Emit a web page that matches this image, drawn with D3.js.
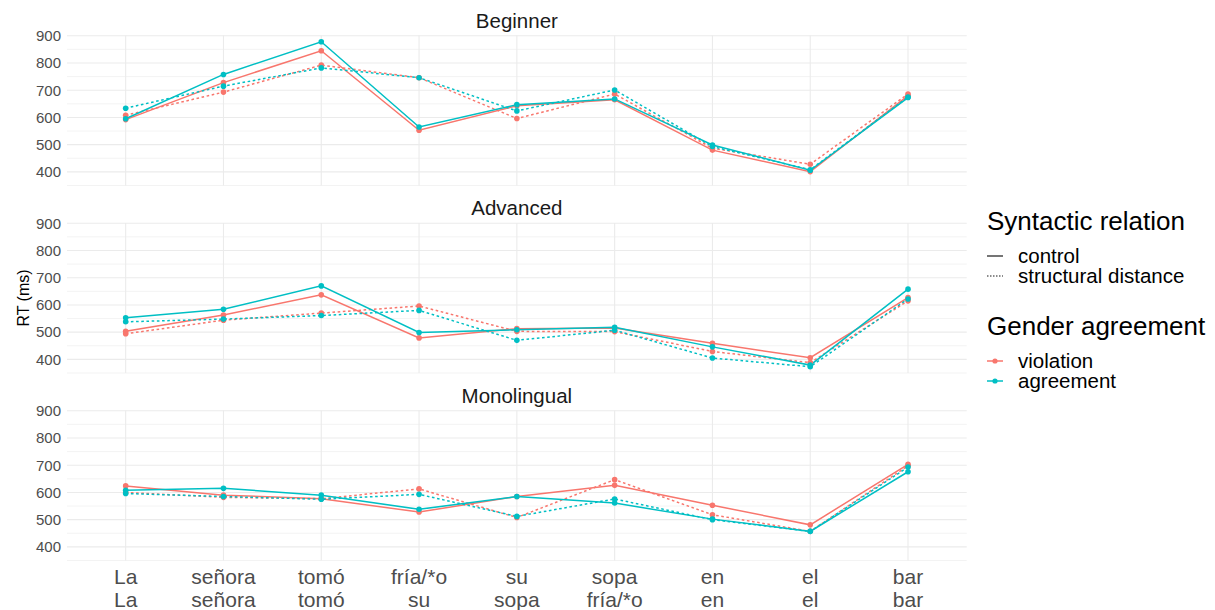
<!DOCTYPE html>
<html>
<head>
<meta charset="utf-8">
<script src="https://cdn.jsdelivr.net/npm/d3@7"></script>
<style>
  body { margin: 0; background: #fff; }
  svg { display: block; font-family: "Liberation Sans", Arial, sans-serif; }
</style>
</head>
<body>
<svg id="chart" width="1215" height="610"></svg>
<script>
"use strict";

// x labels: first line = control sentence, second line = structural distance sentence
var wordsControl = ["La", "señora", "tomó", "fría/*o", "su", "sopa", "en", "el", "bar"];
var wordsStructural = ["La", "señora", "tomó", "su", "sopa", "fría/*o", "en", "el", "bar"];
var groups = ["Beginner", "Advanced", "Monolingual"];
var yTicks = [400, 500, 600, 700, 800, 900];
var yMinorTicks = [350, 450, 550, 650, 750, 850];

var beginnerViolationControl     = [592, 728, 845, 553, 643, 665, 480, 401, 680];
var beginnerViolationStructural  = [608, 693, 792, 746, 596, 686, 487, 428, 686];
var beginnerAgreementControl     = [595, 758, 878, 565, 647, 668, 499, 406, 673];
var beginnerAgreementStructural  = [634, 715, 782, 746, 624, 701, 493, 408, 675];

var advancedViolationControl     = [503, 563, 637, 479, 513, 515, 459, 406, 627];
var advancedViolationStructural  = [494, 544, 570, 596, 503, 502, 429, 388, 615];
var advancedAgreementControl     = [553, 584, 670, 499, 509, 518, 446, 379, 658];
var advancedAgreementStructural  = [538, 548, 561, 580, 470, 507, 405, 373, 622];

var monoViolationControl         = [624, 590, 577, 528, 585, 626, 553, 481, 703];
var monoViolationStructural      = [600, 582, 577, 613, 508, 647, 518, 457, 698];
var monoAgreementControl         = [608, 615, 590, 538, 585, 561, 502, 457, 676];
var monoAgreementStructural      = [596, 585, 575, 593, 512, 576, 500, 457, 693];

var genderLevels = ["violation", "agreement"];
var relationLevels = ["control", "structural distance"];
var panelSeries = [
  [beginnerViolationControl, beginnerViolationStructural, beginnerAgreementControl, beginnerAgreementStructural],
  [advancedViolationControl, advancedViolationStructural, advancedAgreementControl, advancedAgreementStructural],
  [monoViolationControl, monoViolationStructural, monoAgreementControl, monoAgreementStructural]
];

var COLORS = { violation: "#F8766D", agreement: "#00BFC4" };
var DOTTED = "2.6,2.6";
var LINE_WIDTH = 1.5;

var PANEL_LEFT = 67;
var PANEL_RIGHT = 966.7;
var PANEL_HEIGHT = 150;
var PANEL_TOPS = [35.5, 223, 410.5];

var svg = d3.select("#chart");

var x = d3.scalePoint()
  .domain(d3.range(wordsControl.length))
  .range([PANEL_LEFT, PANEL_RIGHT])
  .padding(0.6);

var line = d3.line()
  .x(function (d, i) { return x(i); });

groups.forEach(function (groupName, gi) {
  var top = PANEL_TOPS[gi];
  var y = d3.scaleLinear().domain([350, 901]).range([top + PANEL_HEIGHT, top]);
  var panel = svg.append("g").attr("class", "panel");

  // minor grid
  panel.selectAll("line.minor")
    .data(yMinorTicks)
    .enter()
    .append("line")
    .attr("class", "minor")
    .attr("x1", PANEL_LEFT).attr("x2", PANEL_RIGHT)
    .attr("y1", function (d) { return y(d); })
    .attr("y2", function (d) { return y(d); })
    .attr("stroke", "#EBEBEB")
    .attr("stroke-width", 0.6);

  // major grid
  panel.selectAll("line.major-y")
    .data(yTicks)
    .enter()
    .append("line")
    .attr("class", "major-y")
    .attr("x1", PANEL_LEFT).attr("x2", PANEL_RIGHT)
    .attr("y1", function (d) { return y(d); })
    .attr("y2", function (d) { return y(d); })
    .attr("stroke", "#EBEBEB")
    .attr("stroke-width", 1.1);

  panel.selectAll("line.major-x")
    .data(x.domain())
    .enter()
    .append("line")
    .attr("class", "major-x")
    .attr("x1", function (d) { return x(d); })
    .attr("x2", function (d) { return x(d); })
    .attr("y1", top).attr("y2", top + PANEL_HEIGHT)
    .attr("stroke", "#EBEBEB")
    .attr("stroke-width", 1.1);

  // y axis labels
  var yAxis = d3.axisLeft(y).tickValues(yTicks).tickSize(0).tickPadding(6);
  panel.append("g")
    .attr("transform", "translate(" + PANEL_LEFT + ",0)")
    .call(yAxis)
    .call(function (g) { g.select(".domain").remove(); })
    .selectAll("text")
    .attr("font-size", 15)
    .attr("font-family", "Liberation Sans, Arial, sans-serif")
    .attr("fill", "#4D4D4D");

  // strip title
  panel.append("text")
    .attr("x", (PANEL_LEFT + PANEL_RIGHT) / 2)
    .attr("y", top - 8)
    .attr("text-anchor", "middle")
    .attr("font-size", 20.5)
    .attr("fill", "#1A1A1A")
    .text(groupName);

  line.y(function (d) { return y(d); });

  var series = panelSeries[gi].map(function (values, si) {
    return {
      values: values,
      gender: genderLevels[Math.floor(si / 2)],
      relation: relationLevels[si % 2]
    };
  });

  series.forEach(function (s) {
    panel.append("path")
      .datum(s.values)
      .attr("d", line)
      .attr("fill", "none")
      .attr("stroke", COLORS[s.gender])
      .attr("stroke-width", LINE_WIDTH)
      .attr("stroke-dasharray", s.relation === "control" ? null : DOTTED);
  });

  series.forEach(function (s) {
    panel.selectAll(null)
      .data(s.values)
      .enter()
      .append("circle")
      .attr("cx", function (d, i) { return x(i); })
      .attr("cy", function (d) { return y(d); })
      .attr("r", 2.8)
      .attr("fill", COLORS[s.gender]);
  });
});

// x axis labels, two lines
var xLabels = svg.append("g").attr("class", "x-labels");
x.domain().forEach(function (i) {
  var t = xLabels.append("text")
    .attr("text-anchor", "middle")
    .attr("font-size", 21)
    .attr("fill", "#4D4D4D");
  t.append("tspan").attr("x", x(i)).attr("y", 584).text(wordsControl[i]);
  t.append("tspan").attr("x", x(i)).attr("y", 607).text(wordsStructural[i]);
});

// y title
svg.append("text")
  .attr("transform", "translate(29," + ((PANEL_TOPS[0] + PANEL_TOPS[2] + PANEL_HEIGHT) / 2) + ") rotate(-90)")
  .attr("text-anchor", "middle")
  .attr("font-size", 16)
  .attr("fill", "#000")
  .text("RT (ms)");

// legends
var legend = svg.append("g").attr("class", "legend");
var KEY_X1 = 987, KEY_X2 = 1003, LABEL_X = 1018;

legend.append("text")
  .attr("x", KEY_X1).attr("y", 230)
  .attr("font-size", 26)
  .attr("fill", "#000")
  .text("Syntactic relation");

relationLevels.forEach(function (rel, i) {
  var cy = 256 + i * 20;
  legend.append("line")
    .attr("x1", KEY_X1).attr("x2", KEY_X2)
    .attr("y1", cy).attr("y2", cy)
    .attr("stroke", "#1A1A1A")
    .attr("stroke-width", 1.2)
    .attr("stroke-dasharray", rel === "control" ? null : "1.5,1.5");
  legend.append("text")
    .attr("x", LABEL_X).attr("y", cy + 7)
    .attr("font-size", 20.5)
    .attr("fill", "#000")
    .text(rel);
});

legend.append("text")
  .attr("x", KEY_X1).attr("y", 335)
  .attr("font-size", 26)
  .attr("fill", "#000")
  .text("Gender agreement");

genderLevels.forEach(function (g, i) {
  var cy = 361 + i * 20;
  legend.append("line")
    .attr("x1", KEY_X1).attr("x2", KEY_X2)
    .attr("y1", cy).attr("y2", cy)
    .attr("stroke", COLORS[g])
    .attr("stroke-width", 1.5);
  legend.append("circle")
    .attr("cx", (KEY_X1 + KEY_X2) / 2).attr("cy", cy)
    .attr("r", 2.6)
    .attr("fill", COLORS[g]);
  legend.append("text")
    .attr("x", LABEL_X).attr("y", cy + 7)
    .attr("font-size", 20.5)
    .attr("fill", "#000")
    .text(g);
});
</script>
</body>
</html>
